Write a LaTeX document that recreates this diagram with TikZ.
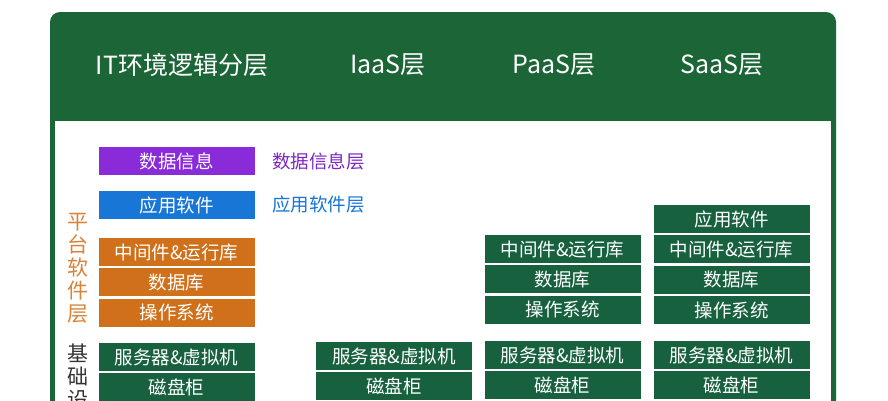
\documentclass[tikz,border=0pt]{standalone}
\usepackage{fontspec}
\setmainfont{Noto Sans CJK SC}
\usetikzlibrary{positioning}
\definecolor{hdgreen}{HTML}{1B6536}
\definecolor{boxgreen}{HTML}{17613F}
\definecolor{dpurple}{HTML}{8A2BD9}
\definecolor{dblue}{HTML}{1776D6}
\definecolor{dorange}{HTML}{D0701A}
\definecolor{lorange}{HTML}{D8843A}
\begin{document}
\begin{tikzpicture}[
      x=1pt, y=-1pt,
      box/.style={fill=#1, text=white, minimum width=156pt, minimum height=28pt, inner sep=0pt,
        font=\fontsize{18.5}{21}\selectfont},
      box/.default=boxgreen,
      head/.style={text=white, font=\fontsize{25}{30}\selectfont},
      lbl/.style={anchor=west, inner sep=0pt, font=\fontsize{18.5}{22}\selectfont},
      vlbl/.style={align=center, inner sep=0pt, font=\fontsize{21}{23}\selectfont},
    ]
    \useasboundingbox (0,0) rectangle (888,400);
    \clip (0,0) rectangle (888,400);
    % frame and header
    \fill[hdgreen, rounded corners=10pt] (50,12) rectangle (836,440);
    \fill[white] (55,121) rectangle (831,440);
    \node[head] (hIT) at (182,65) {IT环境逻辑分层};
    \node[head] (hIaaS) at (388,65) {IaaS层};
    \node[head] (hPaaS) at (554,65) {PaaS层};
    \node[head] (hSaaS) at (722,65) {SaaS层};

    % logical layers
    \node[box=dpurple] (info) at (176.5,161) {数据信息};
    \node[box=dblue] (app) at (176.5,205) {应用软件};
    \node[box=dorange] (mid) at (176.5,252) {中间件\&运行库};
    \node[box=dorange, below=2pt of mid] (db) {数据库};
    \node[box=dorange, below=2pt of db] (os) {操作系统};
    \node[box] (srv) at (176.5,357) {服务器\&虚拟机};
    \node[box, below=2pt of srv] (disk) {磁盘柜};
    \node[lbl, text=dpurple!90!black] (infoL) at (272,161) {数据信息层};
    \node[lbl, text=dblue] (appL) at (272,204) {应用软件层};
    \node[vlbl, text=lorange] (plat) at (78,268) {平\\台\\软\\件\\层};
    \node[vlbl, text=black!80, anchor=north] (infra) at (78,344) {基\\础\\设\\施\\层};

    % IaaS
    \node[box] (iSrv) at (394,356) {服务器\&虚拟机};
    \node[box, below=2pt of iSrv] (iDisk) {磁盘柜};

    % PaaS
    \node[box] (pMid) at (562.5,249) {中间件\&运行库};
    \node[box, below=2pt of pMid] (pDb) {数据库};
    \node[box, below=2pt of pDb] (pOs) {操作系统};
    \node[box] (pSrv) at (562.5,355) {服务器\&虚拟机};
    \node[box, below=2pt of pSrv] (pDisk) {磁盘柜};

    % SaaS
    \node[box] (sApp) at (731.5,219) {应用软件};
    \node[box, below=2pt of sApp] (sMid) {中间件\&运行库};
    \node[box, below=2pt of sMid] (sDb) {数据库};
    \node[box, below=2pt of sDb] (sOs) {操作系统};
    \node[box] (sSrv) at (731.5,355) {服务器\&虚拟机};
    \node[box, below=2pt of sSrv] (sDisk) {磁盘柜};
  \end{tikzpicture}
\end{document}
